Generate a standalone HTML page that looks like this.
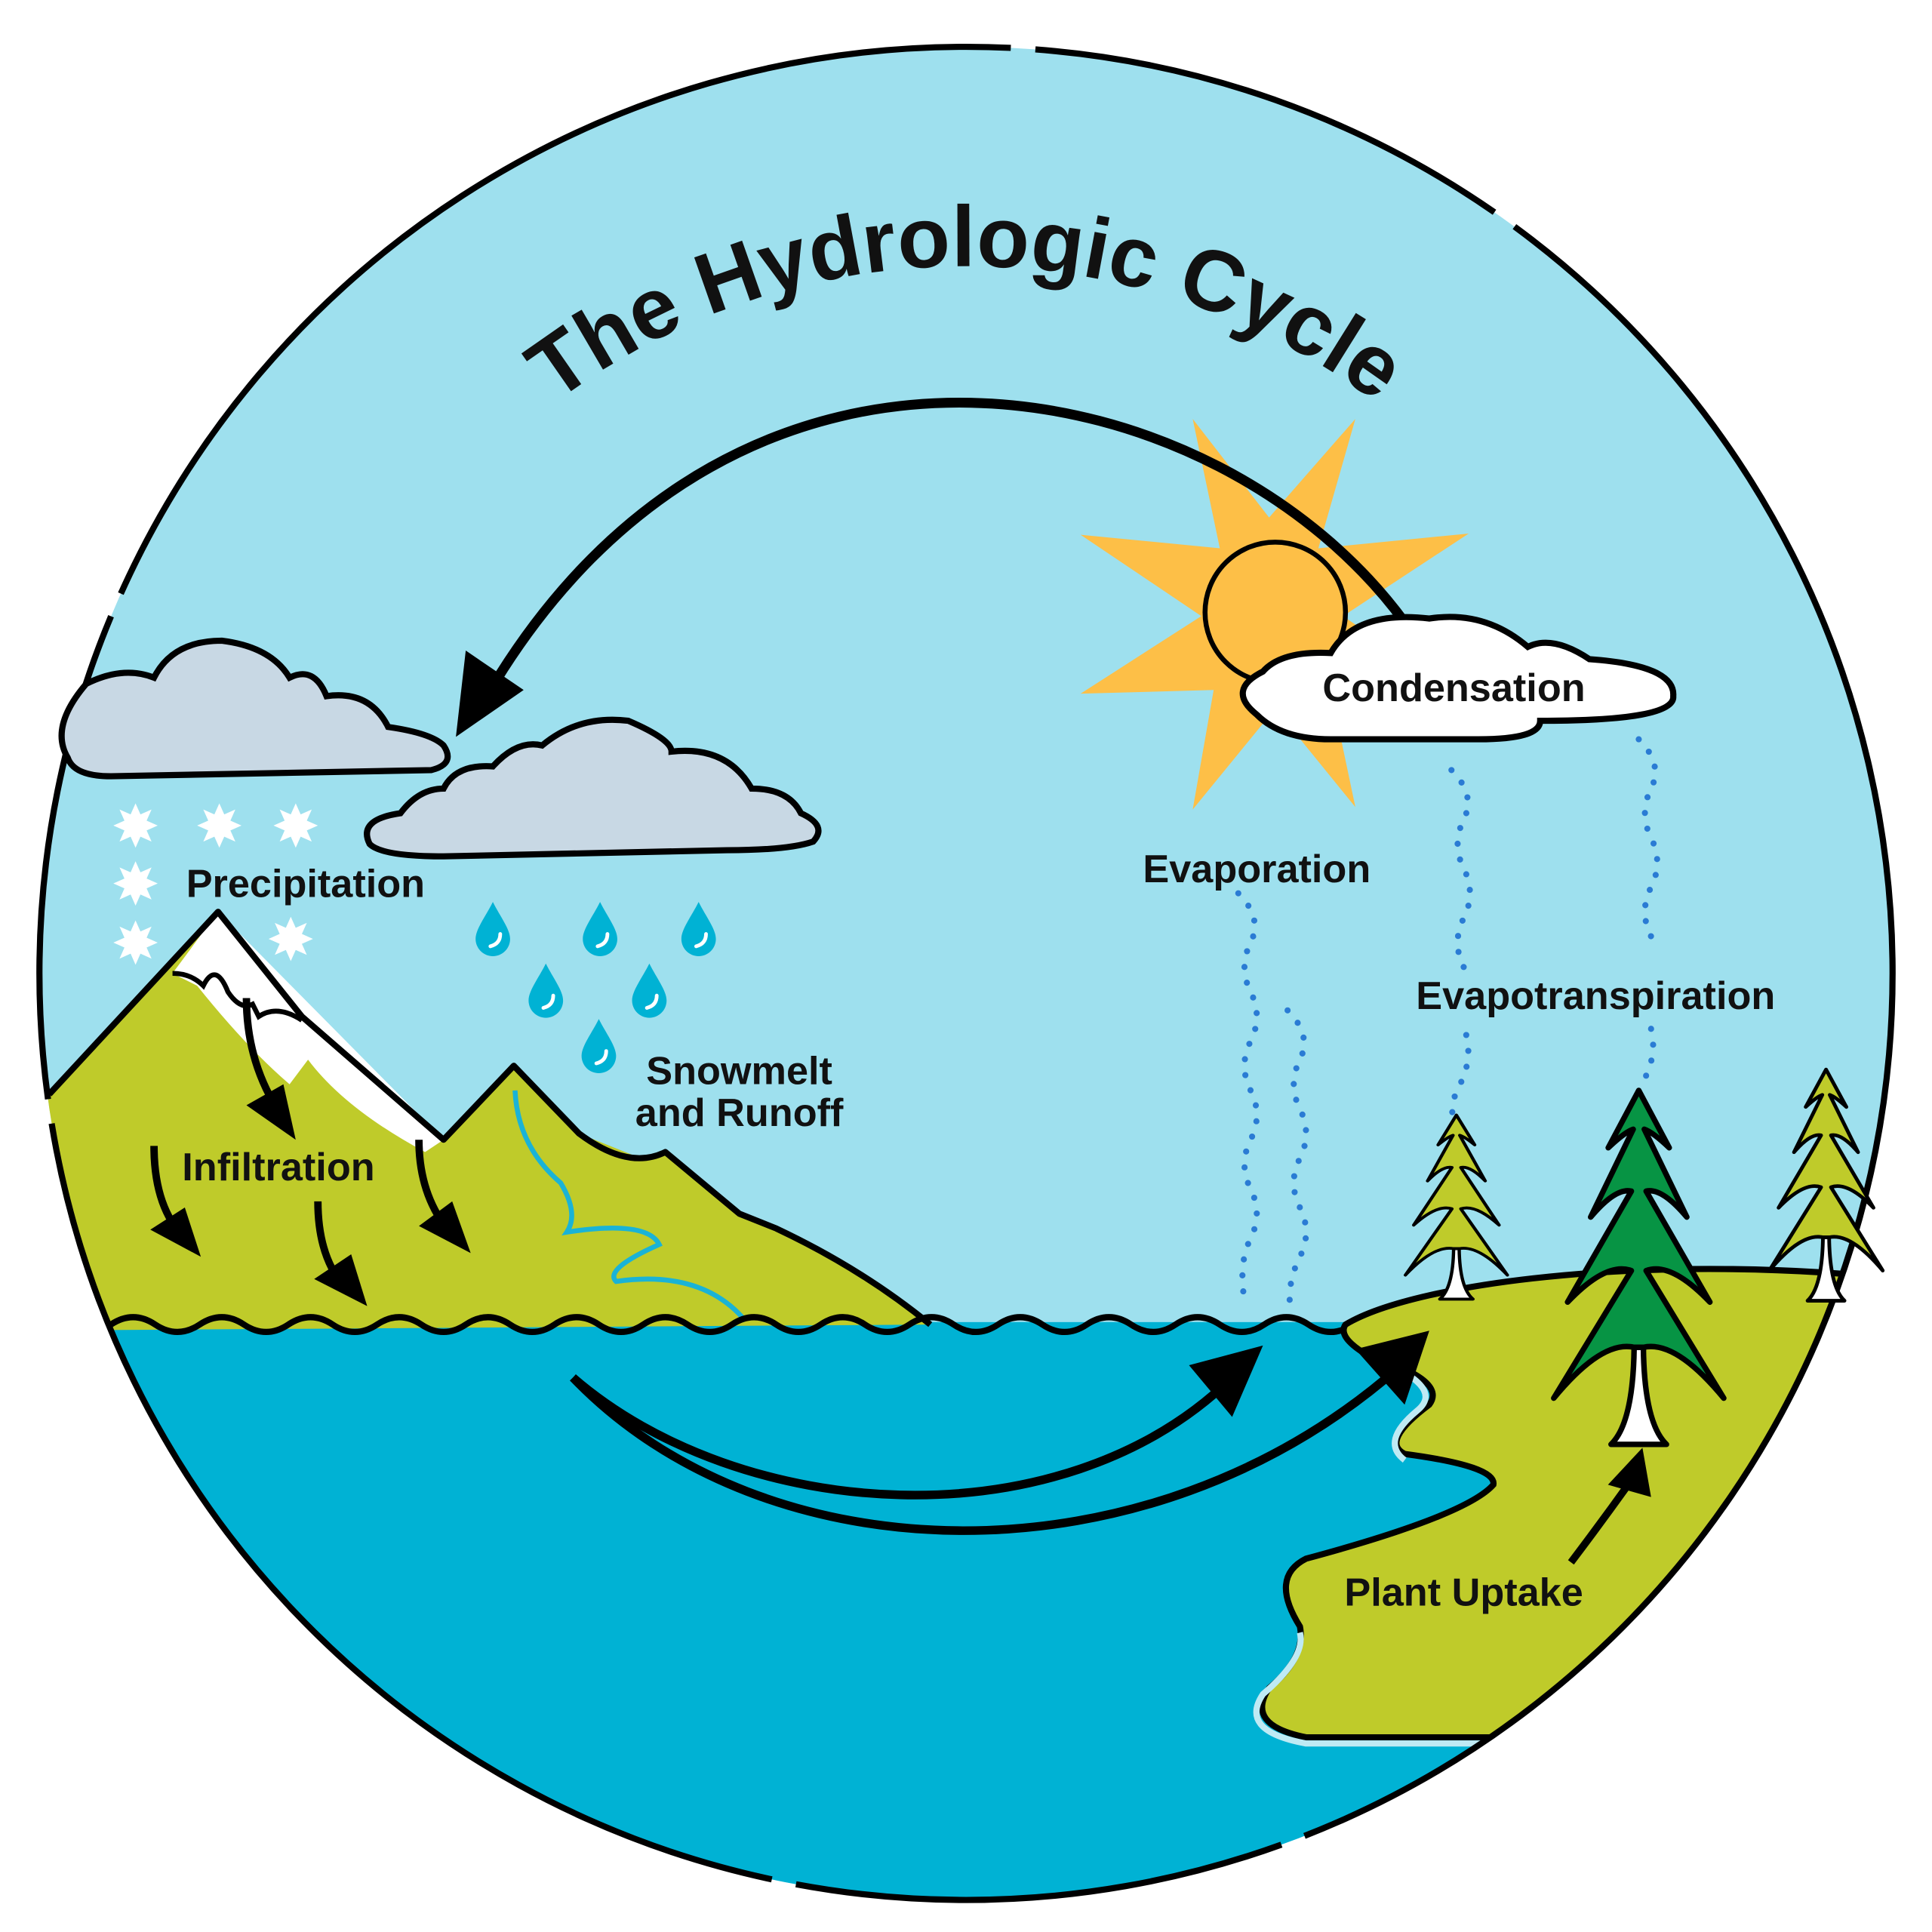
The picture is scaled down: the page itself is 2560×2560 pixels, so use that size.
<!DOCTYPE html>
<html><head><meta charset="utf-8"><style>html,body{margin:0;padding:0;background:#fff;overflow:hidden;width:2560px;height:2560px}svg{display:block}</style></head>
<body>
<svg width="2560" height="2560" viewBox="0 0 1568 1568" xmlns="http://www.w3.org/2000/svg">
<defs>
<clipPath id="c"><circle cx="784" cy="790" r="752"/></clipPath>
<path id="ta" d="M320,470 A540,520 0 0 1 1248,470" fill="none"/>
<g id="tree">
<path d="M0,0 L33,62 Q15,45 6,42 L52,137 Q25,105 8,109 L77,229 Q35,185 8,195 L92,333 Q40,270 5,278 L-5,278 Q-40,270 -92,333 L-8,195 Q-35,185 -77,229 L-8,109 Q-25,105 -52,137 L-6,42 Q-15,45 -33,62 Z" stroke="#000" stroke-width="6" stroke-linejoin="round"/>
<path d="M-5,278 Q-6,360 -30,383 L30,383 Q6,360 5,278 Z" fill="#fff" stroke="#000" stroke-width="6" stroke-linejoin="round"/>
</g>
<g id="drop"><path d="M0,-20 C6,-8 14,2 14,10 A14,14 0 0 1 -14,10 C-14,2 -6,-8 0,-20 Z" fill="#00b2d4"/><path d="M6,6 Q6,14 -2,16" stroke="#fff" stroke-width="3" fill="none" stroke-linecap="round"/></g>
<polygon id="snow" points="0,-18 4,-9 13,-13 9,-4 18,0 9,4 13,13 4,9 0,18 -4,9 -13,13 -9,4 -18,0 -9,-4 -13,-13 -4,-9" fill="#fff"/>
</defs>
<g clip-path="url(#c)">
<rect x="0" y="0" width="1568" height="1568" fill="#9ee0ee"/>
<rect x="0" y="1073" width="1568" height="600" fill="#00b2d4"/>
<path d="M10,900 L40,888 L177,740 L245,825 L360,925 L417,865 L470,920 L520,940 L540,935 L600,985 L630,997 L660,1010 L755,1075 L10,1080 Z" fill="#bfcb2a"/>
<path d="M177,740 L360,925 L345,935 Q280,900 250,860 L235,880 Q200,850 160,800 L140,790 Z" fill="#fff"/>
<path d="M40,888 L177,740 L245,825 L360,925 L417,865 L470,920 Q510,950 540,935 L600,985 L630,997 Q700,1030 755,1075" fill="none" stroke="#000" stroke-width="5" stroke-linejoin="round"/>
<path d="M140,790 Q155,790 165,800 Q175,780 185,805 Q195,820 205,815 L210,825 Q225,815 245,828" fill="none" stroke="#000" stroke-width="4"/>
<path d="M418,885 Q420,930 455,960 Q470,985 460,1000 Q525,990 535,1010 Q490,1030 500,1040 Q570,1030 605,1072" fill="none" stroke="#1ab3d6" stroke-width="4"/>
<path d="M90,1075 q18,-12 36,0 t36,0 t36,0 t36,0 t36,0 t36,0 t36,0 t36,0 t36,0 t36,0 t36,0 t36,0 t36,0 t36,0 t36,0 t36,0 t36,0 t36,0 t36,0 t36,0 t36,0 t36,0 t36,0 t36,0 t36,0 t36,0 t36,0 t36,0" fill="none" stroke="#000" stroke-width="5"/>
<path d="M1092,1075 C1150,1040 1350,1015 1560,1040 L1560,1560 L1230,1560 L1215,1410 L1060,1410 Q1010,1400 1030,1370 Q1060,1345 1055,1320 Q1030,1280 1060,1265 Q1190,1230 1212,1205 Q1215,1190 1140,1180 Q1120,1170 1160,1140 Q1175,1120 1110,1100 Q1085,1085 1092,1075 Z" fill="#bfcb2a" stroke="#000" stroke-width="5"/>
<path d="M1110,1100 Q1175,1125 1150,1145 Q1120,1170 1140,1185 M1055,1325 Q1060,1345 1025,1375 Q1005,1405 1060,1415 L1210,1415" fill="none" stroke="#bfeaf4" stroke-width="5"/>
</g>
<circle cx="784" cy="790" r="752" fill="none" stroke="#000" stroke-width="5" stroke-dasharray="900 20 400 20"/>
<text font-family="Liberation Sans, sans-serif" font-weight="bold" font-size="70" fill="#111"><textPath href="#ta" startOffset="50%" text-anchor="middle">The Hydrologic Cycle</textPath></text>
<polygon points="1100,340 1070,445 1192,433 1090,500 1185,565 1080,560 1100,655 1035,575 968,657 985,560 877,563 975,500 877,434 990,445 968,340 1030,420" fill="#fdbf47"/>
<circle cx="1035" cy="497" r="57" fill="#fdbf47" stroke="#000" stroke-width="4"/>
<path d="M1140,505 C990,300 600,215 395,565" fill="none" stroke="#000" stroke-width="8"/>
<polygon points="370,598 378,528 425,560" fill="#000"/>
<path d="M1020,580 Q995,560 1025,545 Q1040,528 1080,530 Q1100,495 1160,502 Q1205,495 1240,525 Q1260,515 1290,535 Q1360,540 1358,565 Q1360,585 1250,585 Q1250,600 1200,600 L1080,600 Q1040,600 1020,580 Z" fill="#fff" stroke="#000" stroke-width="5"/>
<path d="M55,615 Q40,590 70,555 Q100,540 125,550 Q140,520 180,520 Q220,525 235,550 Q255,540 265,565 Q300,560 315,590 Q350,595 360,605 Q370,620 350,625 L90,630 Q60,630 55,615 Z" fill="#c8d8e4" stroke="#000" stroke-width="5"/>
<path d="M300,685 Q290,665 325,660 Q340,640 360,640 Q370,620 400,622 Q420,600 440,605 Q470,580 510,585 Q545,600 545,610 Q590,605 610,640 Q640,640 650,660 Q672,670 660,683 Q640,690 590,690 L360,695 Q310,695 300,685 Z" fill="#c8d8e4" stroke="#000" stroke-width="5"/>
<use href="#snow" x="110" y="670"/><use href="#snow" x="178" y="670"/><use href="#snow" x="240" y="670"/>
<use href="#snow" x="110" y="717"/><use href="#snow" x="110" y="765"/><use href="#snow" x="236" y="762"/>
<use href="#drop" x="400" y="752"/><use href="#drop" x="487" y="752"/><use href="#drop" x="567" y="752"/>
<use href="#drop" x="443" y="802"/><use href="#drop" x="527" y="802"/><use href="#drop" x="486" y="847"/>
<g fill="none" stroke="#000" stroke-width="6">
<path d="M200,810 Q200,860 225,900"/><path d="M125,930 Q125,980 150,1005"/><path d="M258,975 Q258,1020 280,1045"/><path d="M340,925 Q340,970 365,1000"/>
</g>
<g fill="#000">
<polygon points="240,925 200,897 230,880"/><polygon points="163,1020 122,998 150,980"/><polygon points="298,1060 255,1038 285,1018"/><polygon points="382,1017 340,995 367,975"/>
</g>
<use href="#tree" transform="translate(1330,885) scale(0.75)" fill="#079444"/>
<use href="#tree" transform="translate(1182,905) scale(0.45,0.39)" fill="#bfcb2a"/>
<use href="#tree" transform="translate(1482,868) scale(0.5,0.49)" fill="#bfcb2a"/>
<g fill="none" stroke="#2a7bd4" stroke-width="5" stroke-linecap="round" stroke-dasharray="0 13">
<path d="M1005,725 q20,20 10,40 t0,40 t0,40 t0,40 t0,40 t0,40 t0,40 t-5,50"/>
<path d="M1045,820 q20,20 10,40 t0,40 t0,40 t0,40 t0,40 t-8,40"/>
<path d="M1178,625 q20,20 10,40 t0,40 t0,40 t0,40"/>
<path d="M1190,840 q5,20 -5,40 t-5,25"/>
<path d="M1330,600 q20,20 10,40 t0,40 t0,40 t0,40"/>
<path d="M1340,835 q5,20 -5,40"/>
</g>
<path d="M465,1118 C600,1235 860,1255 1000,1118" fill="none" stroke="#000" stroke-width="7"/>
<polygon points="1025,1092 965,1108 1000,1150" fill="#000"/>
<path d="M465,1118 C620,1280 930,1290 1135,1110" fill="none" stroke="#000" stroke-width="7"/>
<polygon points="1160,1080 1100,1095 1140,1140" fill="#000"/>
<path d="M1275,1268 Q1300,1235 1325,1200" fill="none" stroke="#000" stroke-width="6"/>
<polygon points="1333,1175 1305,1205 1340,1215" fill="#000"/>
<g font-family="Liberation Sans, sans-serif" font-weight="bold" font-size="32" fill="#111">
<text x="1180" y="569" text-anchor="middle">Condensation</text>
<text x="248" y="728" text-anchor="middle">Precipitation</text>
<text x="1020" y="716" text-anchor="middle">Evaporation</text>
<text x="1295" y="819" text-anchor="middle">Evapotranspiration</text>
<text x="600" y="880" text-anchor="middle">Snowmelt</text>
<text x="600" y="914" text-anchor="middle">and Runoff</text>
<text x="226" y="958" text-anchor="middle">Infiltration</text>
<text x="1188" y="1303" text-anchor="middle">Plant Uptake</text>
</g>
</svg>
</body></html>
